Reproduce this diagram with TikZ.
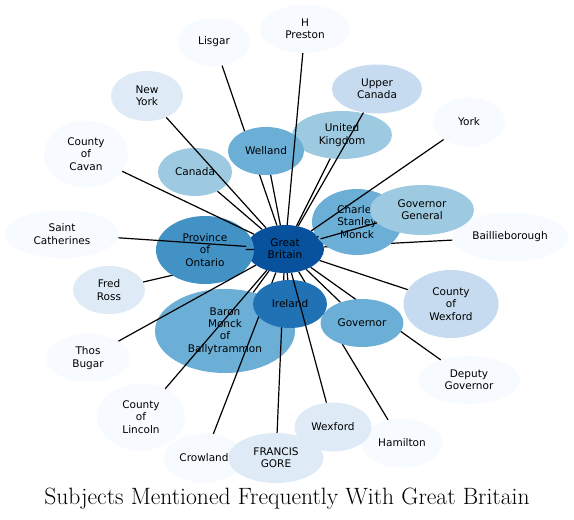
\documentclass[tikz,border=0pt]{standalone}
\usepackage{fontspec}
\newfontfamily\djv{DejaVu Sans}
\usetikzlibrary{shapes.geometric}
\definecolor{b0}{HTML}{F7FBFF}
\definecolor{b1}{HTML}{DEEBF7}
\definecolor{b2}{HTML}{C6DBEF}
\definecolor{b3}{HTML}{9ECAE1}
\definecolor{b4}{HTML}{6BAED6}
\definecolor{b5}{HTML}{4292C6}
\definecolor{b6}{HTML}{2171B5}
\definecolor{b7}{HTML}{08519C}
\newcommand\mybub[7]{%
  \node[bub, fill=#6, minimum width=#4pt, minimum height=#5pt] (#1) at (#2,#3) {};
  \node[lbl] (#1-t) at (#1) {#7};
}
\begin{document}
\begin{tikzpicture}[x=1pt,y=-1pt,
  bub/.style={ellipse, draw=none, inner sep=0pt},
  lbl/.style={font=\djv\fontsize{10.5}{12.3}\selectfont, align=center, inner sep=0pt, text=black},
  edge/.style={line width=1.2pt, black},
  ttl/.style={font=\fontsize{23.6}{28}\selectfont, inner sep=0pt, anchor=base}]
\useasboundingbox (0,0) rectangle (574,520);

\mybub{gb}{285}{249}{78}{48}{b7}{Great\\Britain}

\mybub{fr}{109}{290}{72}{48}{b1}{Fred\\Ross}
\draw[edge] (gb) -- (fr);
\mybub{po}{205}{250}{98}{68}{b5}{Province\\of\\Ontario}
\draw[edge] (gb) -- (po);
\mybub{ca}{195}{172}{74}{48}{b3}{Canada}
\draw[edge] (gb) -- (ca);
\mybub{uk}{342}{135}{100}{48}{b3}{United\\Kingdom}
\draw[edge] (gb) -- (uk);
\mybub{bb}{510}{237}{116}{49}{b0}{Baillieborough}
\draw[edge] (gb) -- (bb);
\mybub{cs}{357}{222}{90}{66}{b4}{Charles\\Stanley\\Monck}
\draw[edge] (gb) -- (cs);
\mybub{bm}{225}{331}{140}{84}{b4}{Baron\\Monck\\of\\Ballytrammon}
\draw[edge] (gb) -- (bm);
\mybub{li}{214}{42}{72}{48}{b0}{Lisgar}
\draw[edge] (gb) -- (li);
\mybub{we}{266}{151}{76}{48}{b4}{Welland}
\draw[edge] (gb) -- (we);
\mybub{dg}{469}{380}{102}{48}{b0}{Deputy\\Governor}
\draw[edge] (gb) -- (dg);
\mybub{ha}{402}{443}{81}{49}{b0}{Hamilton}
\draw[edge] (gb) -- (ha);
\mybub{cr}{204}{458}{81}{49}{b0}{Crowland}
\draw[edge] (gb) -- (cr);
\mybub{fg}{276}{458}{95}{50}{b1}{FRANCIS\\GORE}
\draw[edge] (gb) -- (fg);
\mybub{go}{362}{323}{83}{48}{b4}{Governor}
\draw[edge] (gb) -- (go);
\mybub{ir}{290}{304}{74}{48}{b6}{Ireland}
\draw[edge] (gb) -- (ir);
\mybub{wx}{333}{427}{77}{49}{b1}{Wexford}
\draw[edge] (gb) -- (wx);
\mybub{sc}{62}{234}{114}{48}{b0}{Saint\\Catherines}
\draw[edge] (gb) -- (sc);
\mybub{ny}{147}{96}{72}{50}{b1}{New\\York}
\draw[edge] (gb) -- (ny);
\mybub{uc}{377}{89}{90}{49}{b2}{Upper\\Canada}
\draw[edge] (gb) -- (uc);
\mybub{hp}{305}{29}{90}{48}{b0}{H\\Preston}
\draw[edge] (gb) -- (hp);
\mybub{yo}{469}{122}{72}{49}{b0}{York}
\draw[edge] (gb) -- (yo);
\mybub{gg}{422}{210}{104}{50}{b3}{Governor\\General}
\draw[edge] (gb) -- (gg);
\mybub{tb}{88}{358}{84}{48}{b0}{Thos\\Bugar}
\draw[edge] (gb) -- (tb);
\mybub{cl}{141}{417}{88}{67}{b0}{County\\of\\Lincoln}
\draw[edge] (gb) -- (cl);
\mybub{cc}{86}{154}{84}{67}{b0}{County\\of\\Cavan}
\draw[edge] (gb) -- (cc);
\mybub{cw}{451}{304}{95}{68}{b2}{County\\of\\Wexford}
\draw[edge] (gb) -- (cw);

\node[ttl] (title) at (287,504) {Subjects Mentioned Frequently With Great Britain};
\end{tikzpicture}
\end{document}
